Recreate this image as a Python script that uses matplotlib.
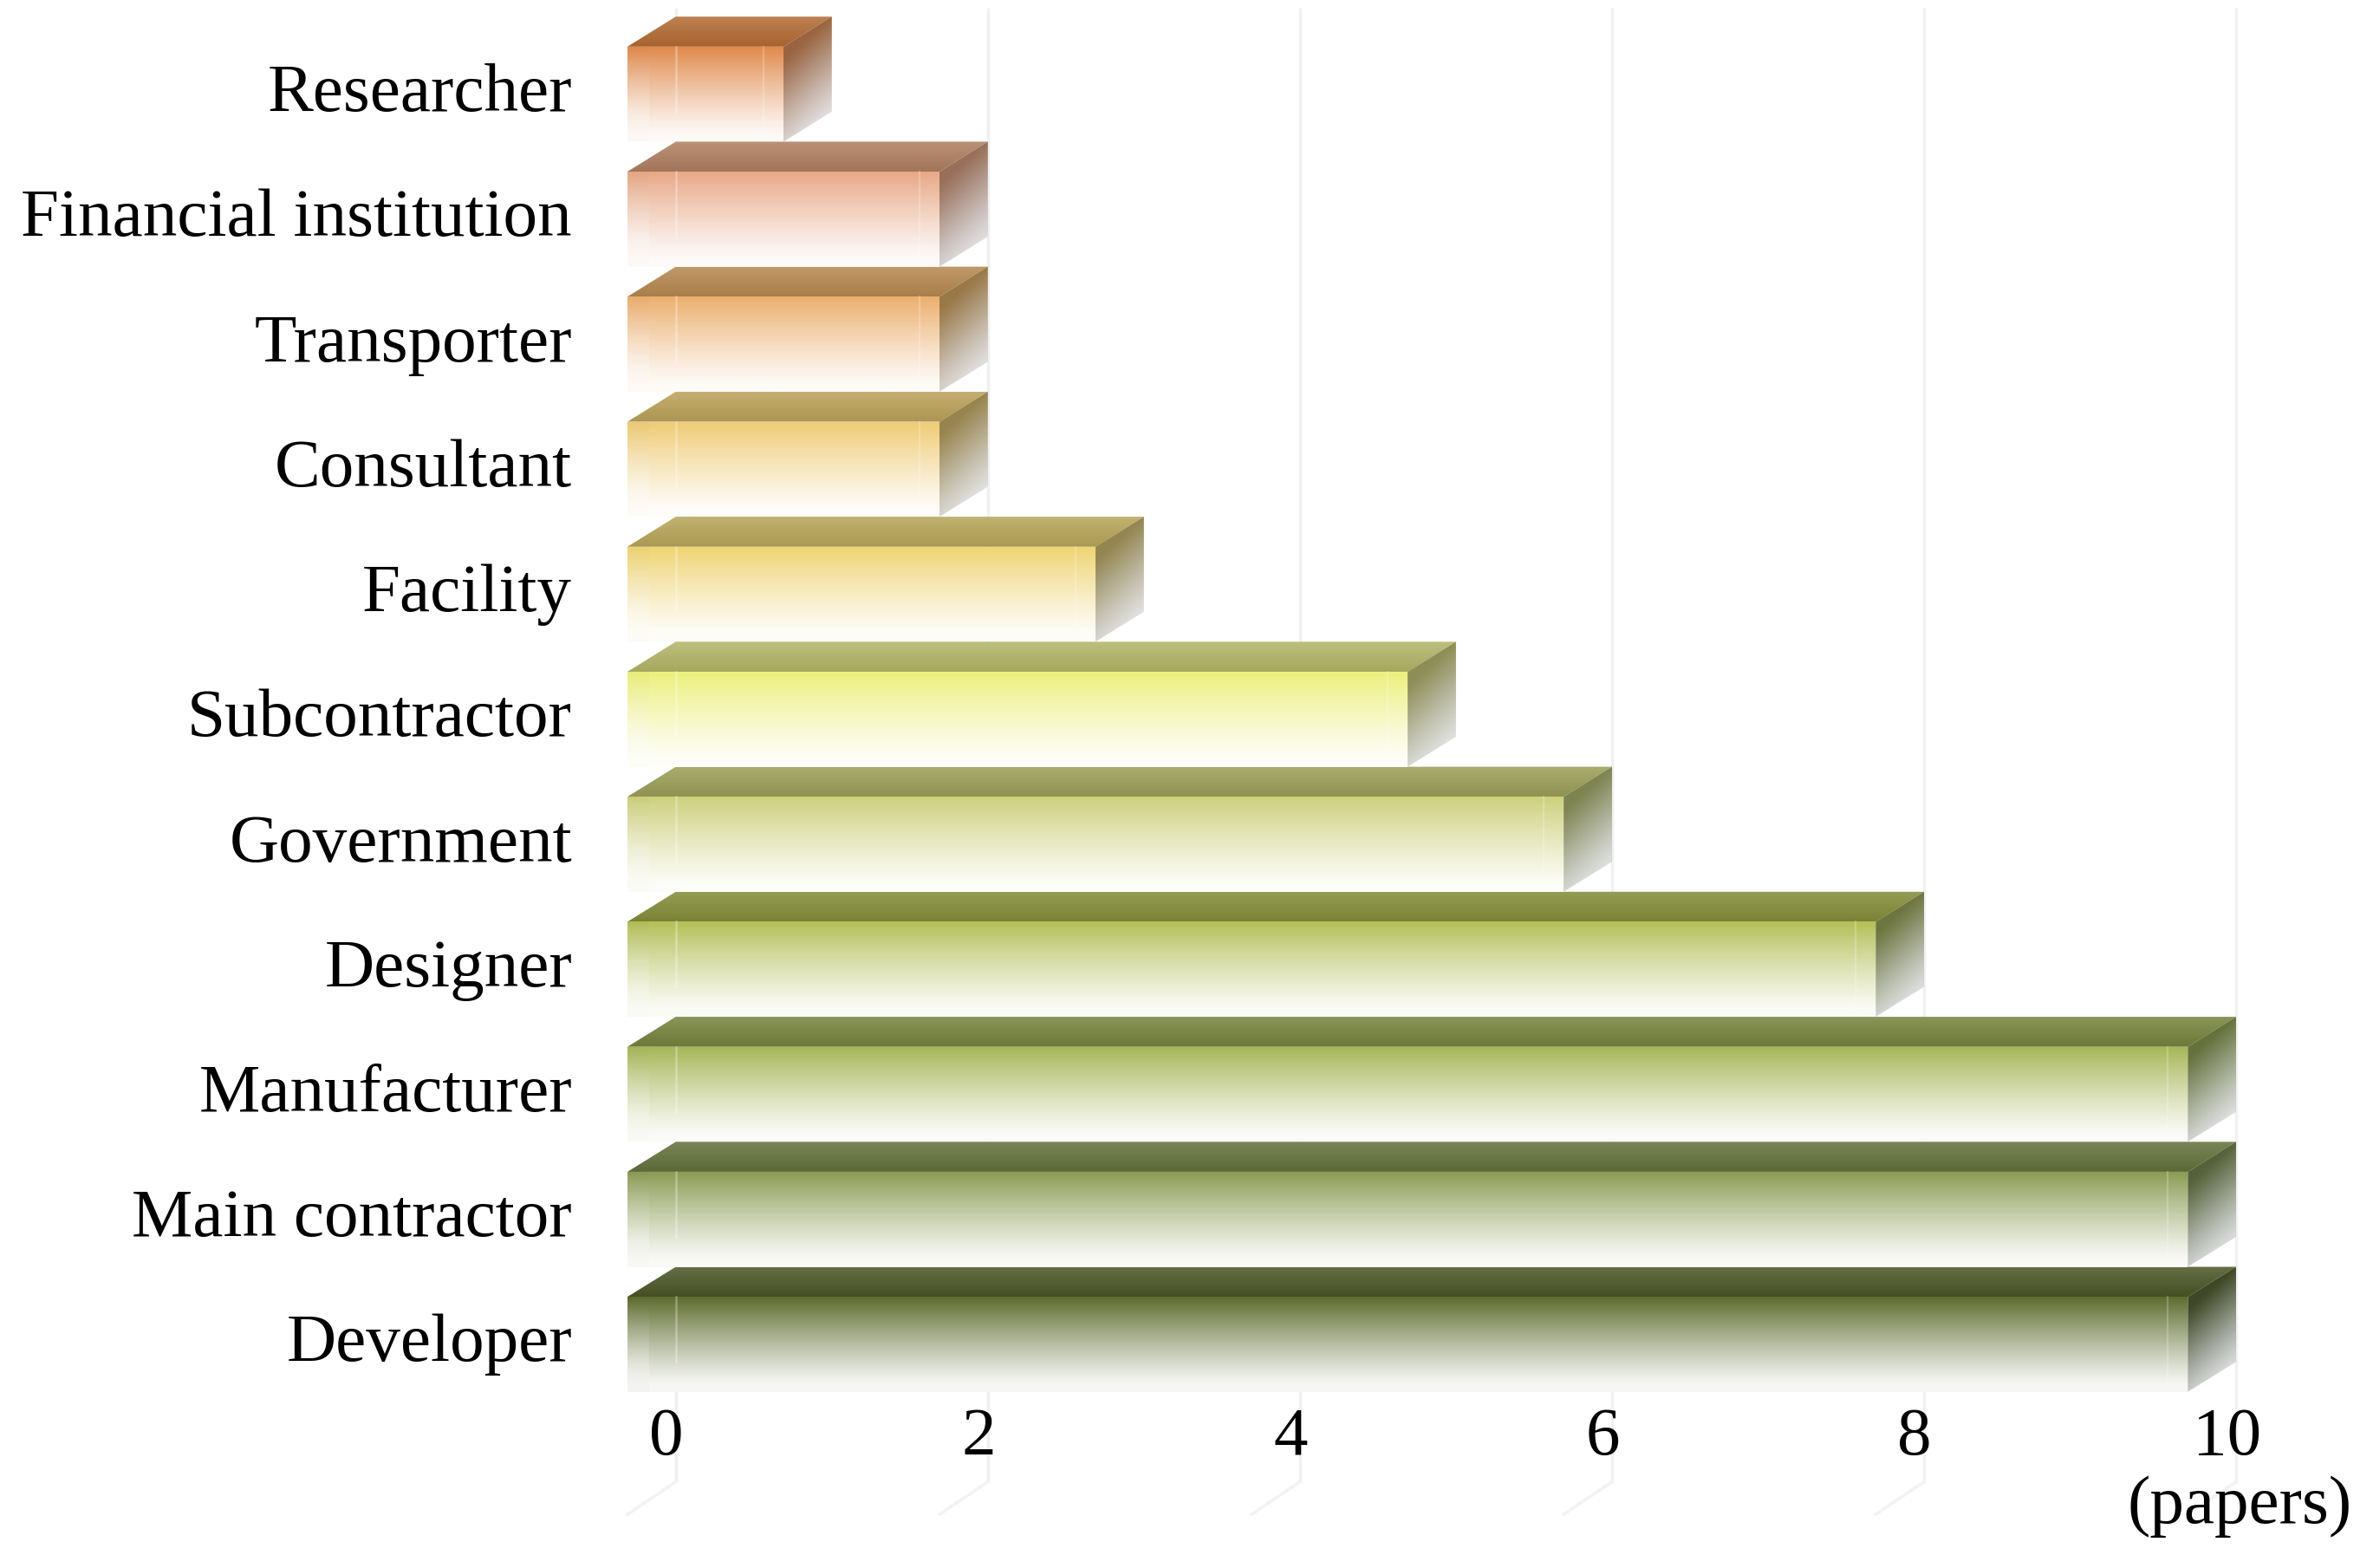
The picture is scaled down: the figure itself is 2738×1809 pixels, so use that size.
import numpy as np
import matplotlib
matplotlib.use('Agg')
import matplotlib.pyplot as plt
from matplotlib.patches import Polygon
from matplotlib.colors import to_rgb

# ---------------- data ----------------
categories = ['Developer', 'Main contractor', 'Manufacturer', 'Designer', 'Government',
              'Subcontractor', 'Facility', 'Consultant', 'Transporter',
              'Financial institution', 'Researcher']
papers = [10, 10, 10, 8, 6, 5, 3, 2, 2, 2, 1]
front_colors = ['#5E6C2E', '#8C9C55', '#A6B656', '#B4C058', '#CDD07C', '#ECF07C',
                '#EFD472', '#EFCB74', '#ECAF6E', '#E8A886', '#E0894A']
top_colors = ['#4A5525', '#62703A', '#75823C', '#838C38', '#9A9E56', '#B2B466',
              '#B7A458', '#BAA058', '#B5884F', '#AE7E60', '#B26A32']
side_colors = ['#3E4826', '#56623A', '#66723C', '#6E7640', '#7E8450', '#8E8E56',
               '#948650', '#98844E', '#9A7848', '#99705A', '#9A6440']
xticks = [0, 2, 4, 6, 8, 10]
unit_label = '(papers)'

DX = 0.31   # depth offset in value units
H = 0.76    # front-face height (row units); depth rise = 1 - H

FONT = ['Liberation Serif', 'DejaVu Serif']
FS = 57

fig = plt.figure(figsize=(27.38, 18.09), dpi=100)
ax = fig.add_axes([0, 0, 1, 1])
ax.axis('off')

WHITE = np.array([1.0, 1.0, 1.0])


def grad_patch(verts, rgba_fn, z):
    """Fill polygon verts with an image computed by rgba_fn(X, Y) (normalized 0..1 grids, Y=0 top)."""
    poly = Polygon(verts, closed=True, facecolor='none', edgecolor='none', zorder=z)
    ax.add_patch(poly)
    xs = [p[0] for p in verts]
    ys = [p[1] for p in verts]
    x0, x1, y0, y1 = min(xs), max(xs), min(ys), max(ys)
    n = 200
    X, Y = np.meshgrid(np.linspace(0, 1, n), np.linspace(0, 1, n))
    img = rgba_fn(X, Y)
    im = ax.imshow(img, extent=(x0, x1, y0, y1), origin='upper', aspect='auto',
                   zorder=z, interpolation='bilinear')
    im.set_clip_path(poly)
    return im


def mix(c1, c2, w):
    w = w[..., None]
    return c1 * w + c2 * (1 - w)


# ---------------- grid (back wall + floor) ----------------
for v in xticks:
    ax.plot([v + DX, v + DX], [-0.72, 11.07], color='#F0F0F0', lw=2.5, zorder=0,
            solid_capstyle='butt')
    ax.plot([v + DX, v], [-0.72, -0.98], color='#F2F2F2', lw=2.5, zorder=0)

# ---------------- bars ----------------
for i, (cat, val) in enumerate(zip(categories, papers)):
    cf = np.array(to_rgb(front_colors[i]))
    ct = np.array(to_rgb(top_colors[i]))
    cs = np.array(to_rgb(side_colors[i]))
    y0 = i
    yt = i + H
    yb = i + 1

    # front face: strong colour at top fading to near white
    def front_fn(X, Y, cf=cf):
        w = np.clip(1 - Y / 0.93, 0, 1) ** 1.15
        w = 0.05 + 0.95 * w
        rgb = mix(cf, WHITE, w)
        return np.dstack([rgb, np.ones(X.shape)])
    grad_patch([(0, y0), (val, y0), (val, yt), (0, yt)], front_fn, 3)

    # left strip shading
    def strip_fn(X, Y, cf=cf):
        w = np.clip(1 - Y / 0.75, 0, 1) ** 1.3
        rgb = mix(cf * 0.97, WHITE, 0.08 + 0.92 * w)
        a = np.full(X.shape, 0.45)
        return np.dstack([rgb, a])
    grad_patch([(0, y0), (DX * 0.45, y0), (DX * 0.45, yt), (0, yt)], strip_fn, 3.1)

    # faint back edges seen through the translucent bar
    ax.plot([DX, DX], [y0 + (1 - H), yt], color='white', lw=1.8, alpha=0.3, zorder=3.2)
    ax.plot([val - 0.13, val - 0.13], [y0 + 0.02, yt], color='white', lw=1.6, alpha=0.22,
            zorder=3.2)

    # top face: lighter at back, darker at front edge
    def top_fn(X, Y, ct=ct):
        back = ct * 0.85 + WHITE * 0.15
        front = ct * 0.93
        rgb = mix(front, back, Y)
        return np.dstack([rgb, np.ones(X.shape)])
    grad_patch([(0, yt), (val, yt), (val + DX, yb), (DX, yb)], top_fn, 3)

    # right side face: dark at top, fading to pale grey at the bottom
    def side_fn(X, Y, cs=cs):
        t = np.clip(Y - 0.35 * (1 - X), 0, 1)
        w = np.clip(1 - t / 0.95, 0, 1) ** 1.2
        pale = np.array([0.86, 0.87, 0.89])
        rgb = mix(cs, pale, w)
        a = np.clip(1.0 - 0.6 * t ** 2, 0, 1)
        return np.dstack([rgb, a])
    grad_patch([(val, y0), (val, yt), (val + DX, yb), (val + DX, y0 + (1 - H))], side_fn, 3)

    # category label
    ax.text(-0.355, i + 0.375, cat, ha='right', va='center', fontsize=FS,
            family=FONT, color='black', zorder=5)

# ---------------- value axis labels ----------------
for v in xticks:
    ax.text(v + 0.25, -0.37, str(v), ha='center', va='center', fontsize=FS,
            family=FONT, color='black', zorder=5)
ax.text(10.33, -0.92, unit_label, ha='center', va='center', fontsize=FS,
        family=FONT, color='black', zorder=5)

ax.set_xlim(-4.021, 11.187)
ax.set_ylim(-1.409, 11.133)

fig.savefig('out.png', dpi=100, facecolor='white')
